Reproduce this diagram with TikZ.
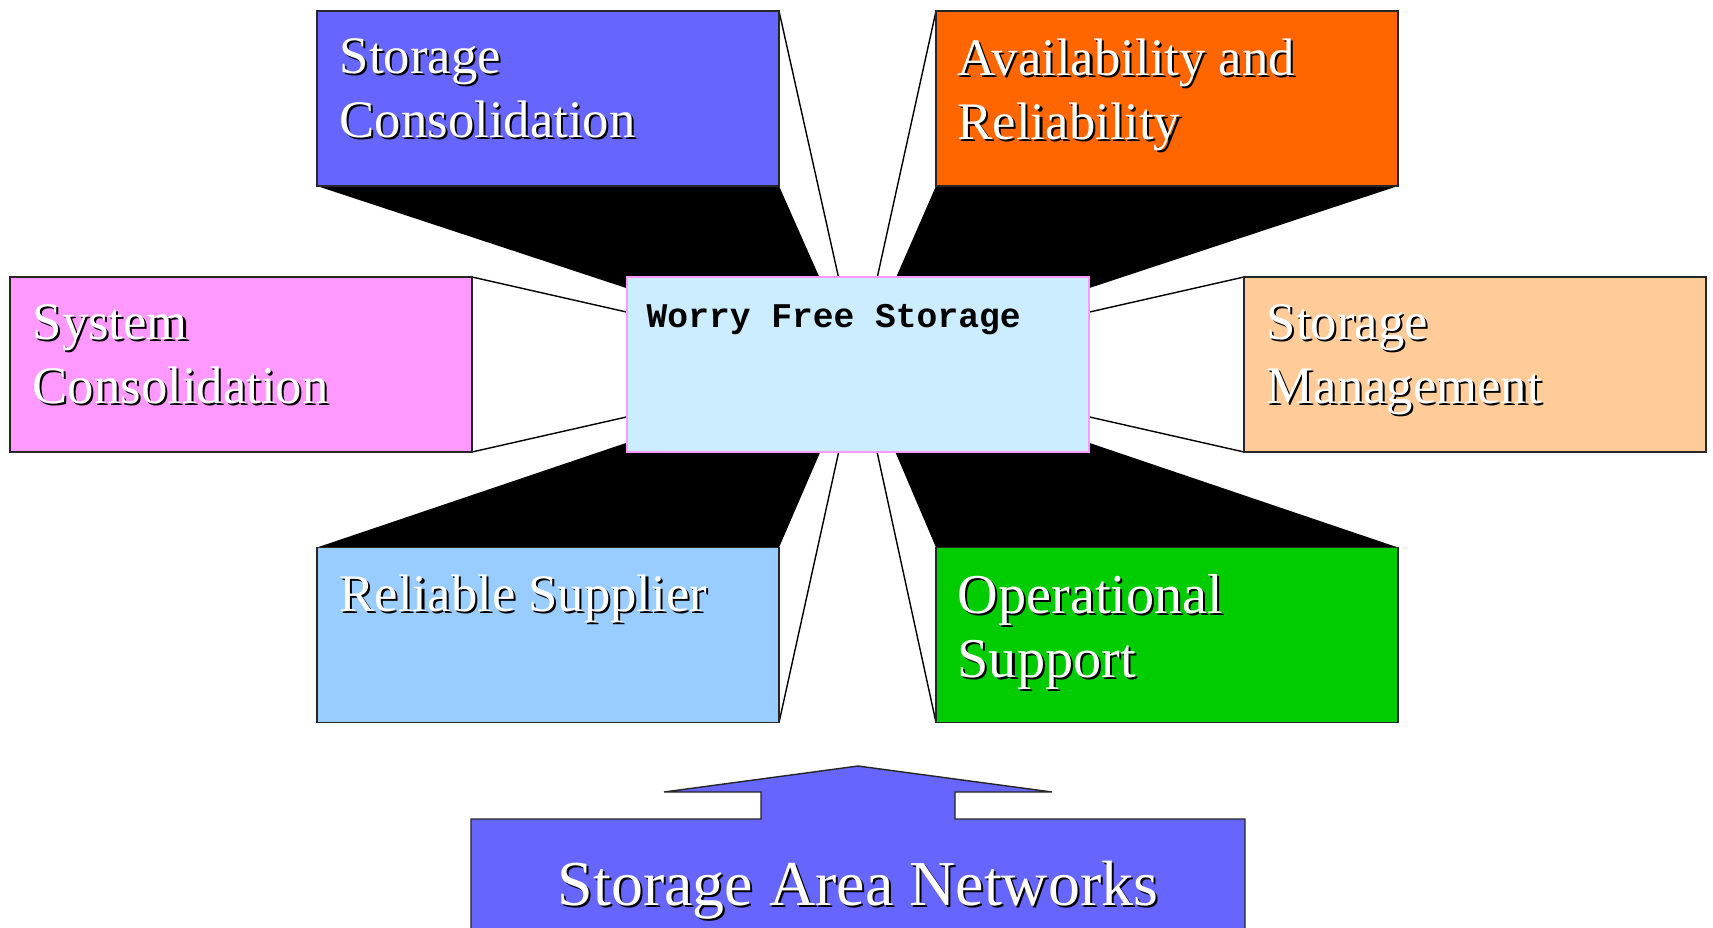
\documentclass[tikz,border=0pt]{standalone}
\usepackage{fontspec}
\setmainfont{Liberation Serif}
\newfontfamily\hubfont{Liberation Mono}
\usetikzlibrary{calc,backgrounds}

\definecolor{storcol}{HTML}{6666FF}
\definecolor{availcol}{HTML}{FF6600}
\definecolor{syscol}{HTML}{FF99FF}
\definecolor{mgmtcol}{HTML}{FFCC99}
\definecolor{suppcol}{HTML}{99CCFF}
\definecolor{opscol}{HTML}{00CC00}
\definecolor{hubfill}{HTML}{CCECFF}
\definecolor{hubedge}{HTML}{FF99FF}

% white lettering with a small black drop shadow
\newcommand{\emboss}[1]{\makebox[0pt][l]{\hspace{0.6pt}\raisebox{-0.6pt}{\color{black}#1}}{\color{white}#1}}

\tikzset{
  panel/.style={draw=black!85, line width=0.4pt, minimum width=4.62cm, minimum height=1.75cm, inner sep=0pt, outer sep=0pt},
  caption/.style={anchor=north west, inner sep=0pt, align=left, font=\fontsize{15}{18.2}\selectfont},
}

\begin{document}
\begin{tikzpicture}
\useasboundingbox (0,0) rectangle (17.13,-9.27);

% Centre box
\node[panel, draw=hubedge, fill=hubfill] (hub) at (8.58,-3.645) {};
\node[caption, font=\hubfont\bfseries\fontsize{9.85}{12}\selectfont] (hub-t) at ([xshift=0.19cm,yshift=-0.27cm]hub.north west) {Worry Free Storage};

% Outer boxes
\node[panel, fill=storcol] (stor) at (5.48,-0.985) {};
\node[panel, fill=availcol] (avail) at (11.67,-0.985) {};
\node[panel, fill=syscol] (sys) at (2.41,-3.645) {};
\node[panel, fill=mgmtcol] (mgmt) at (14.75,-3.645) {};
\node[panel, fill=suppcol] (supp) at (5.48,-6.35) {};
\node[panel, fill=opscol] (ops) at (11.67,-6.35) {};

\node[caption] (stor-t) at ([xshift=0.22cm,yshift=-0.27cm]stor.north west) {\emboss{Storage}\\\emboss{Consolidation}};
\node[caption] (avail-t) at ([xshift=0.21cm,yshift=-0.27cm]avail.north west) {\emboss{Availability and}\\\emboss{Reliability}};
\node[caption] (sys-t) at ([xshift=0.22cm,yshift=-0.27cm]sys.north west) {\emboss{System}\\\emboss{Consolidation}};
\node[caption] (mgmt-t) at ([xshift=0.22cm,yshift=-0.27cm]mgmt.north west) {\emboss{Storage}\\\emboss{Management}};
\node[caption] (supp-t) at ([xshift=0.22cm,yshift=-0.27cm]supp.north west) {\emboss{Reliable Supplier}};
\node[caption, font=\fontsize{16}{18.2}\selectfont] (ops-t) at ([xshift=0.21cm,yshift=-0.26cm]ops.north west) {\emboss{Operational}\\\emboss{Support}};

% Perspective faces towards the centre
\begin{scope}[on background layer]
\coordinate (vp) at (hub.center);
\fill[black] (stor.south west) -- (stor.south east) -- (vp) -- cycle;
\fill[black] (avail.south west) -- (avail.south east) -- (vp) -- cycle;
\fill[black] (supp.north west) -- (supp.north east) -- (vp) -- cycle;
\fill[black] (ops.north west) -- (ops.north east) -- (vp) -- cycle;
\foreach \c in {stor.north east, avail.north west, sys.north east, sys.south east, mgmt.north west, mgmt.south west, supp.south east, ops.south west} {
  \draw[line width=0.4pt] (\c) -- (vp);
}
\end{scope}

% Base block with arrow
\coordinate (san-top) at (8.58,-8.19);
\draw[fill=storcol, draw=black!85, line width=0.4pt] ($(san-top)+(-3.87,-1.3)$) -- ($(san-top)+(-3.87,0)$)
  -- ($(san-top)+(-0.97,0)$) -- ($(san-top)+(-0.97,0.27)$) -- ($(san-top)+(-1.94,0.27)$)
  -- ($(san-top)+(0,0.53)$)
  -- ($(san-top)+(1.94,0.27)$) -- ($(san-top)+(0.97,0.27)$) -- ($(san-top)+(0.97,0)$)
  -- ($(san-top)+(3.87,0)$) -- ($(san-top)+(3.87,-1.3)$);
\node[anchor=base, inner sep=0pt, font=\fontsize{18.2}{22}\selectfont] (san) at ($(san-top)+(0,-0.86)$) {\emboss{Storage Area Networks}};
\end{tikzpicture}
\end{document}
